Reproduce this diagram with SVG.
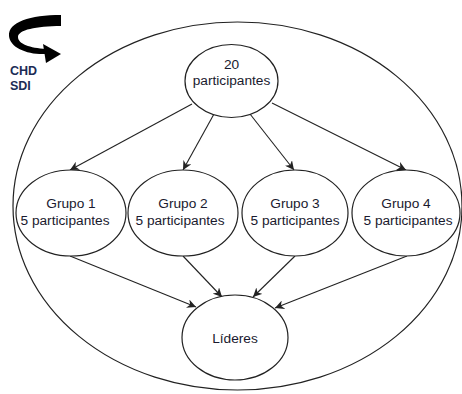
<svg xmlns="http://www.w3.org/2000/svg" width="462" height="394" viewBox="0 0 462 394">
<style>
.n{fill:#fff;stroke:#222;stroke-width:1.2}
.t{font-family:"Liberation Sans",Arial,sans-serif;font-size:13.7px;fill:#1a1a2e;text-anchor:middle}
.b{font-family:"Liberation Sans",Arial,sans-serif;font-size:12.5px;font-weight:bold;fill:#1c2c55}
.c{stroke:#222;stroke-width:1.1;fill:none;marker-end:url(#ah)}
</style>
<defs>
<marker id="ah" viewBox="0 0 10 10" refX="10" refY="5" markerWidth="9" markerHeight="9" markerUnits="userSpaceOnUse" orient="auto">
<path d="M0,0 L10,5 L0,10 L3,5 Z" fill="#222"/>
</marker>
</defs>
<rect width="462" height="394" fill="#fff"/>
<g id="outer"><ellipse cx="237.5" cy="206" rx="224.5" ry="184" fill="none" stroke="#222" stroke-width="1.2"/></g>
<g id="curved-arrow">
<path d="M61,15 C30,15 8,22 9,36 C10,48 28,55 46,54 L46,49 C30,48 18,44 18,37 C18,30 36,26 61,26 Z" fill="#000"/>
<polygon points="43,44 61,54 46,63" fill="#000"/>
<text class="b" x="10" y="75">CHD</text>
<text class="b" x="10" y="90">SDI</text>
</g>
<g id="connectors">
<line class="c" x1="192" y1="104" x2="70" y2="170"/>
<line class="c" x1="214" y1="114" x2="183" y2="170"/>
<line class="c" x1="250" y1="114" x2="294" y2="170"/>
<line class="c" x1="272" y1="103" x2="406" y2="170"/>
<line class="c" x1="70" y1="256" x2="196" y2="307"/>
<line class="c" x1="183" y1="256" x2="222" y2="297"/>
<line class="c" x1="295" y1="256" x2="253" y2="297"/>
<line class="c" x1="407" y1="256" x2="275" y2="308"/>
</g>
<g id="top"><ellipse class="n" cx="231.5" cy="81" rx="46.5" ry="36.5"/><text class="t" x="231.5" y="69">20</text><text class="t" x="231.5" y="85">participantes</text></g>
<g id="g1"><ellipse class="n" cx="71" cy="213" rx="55" ry="43"/><text class="t" x="71" y="208">Grupo 1</text><text class="t" x="65" y="225">5 participantes</text></g>
<g id="g2"><ellipse class="n" cx="183" cy="213" rx="55" ry="43"/><text class="t" x="183" y="208">Grupo 2</text><text class="t" x="180" y="225">5 participantes</text></g>
<g id="g3"><ellipse class="n" cx="295" cy="213" rx="53" ry="43"/><text class="t" x="295" y="208">Grupo 3</text><text class="t" x="295" y="225">5 participantes</text></g>
<g id="g4"><ellipse class="n" cx="406" cy="213" rx="54" ry="43"/><text class="t" x="406" y="208">Grupo 4</text><text class="t" x="408" y="225">5 participantes</text></g>
<g id="lideres"><ellipse class="n" cx="235" cy="337.5" rx="53" ry="42.5"/><text class="t" x="235" y="343">Líderes</text></g>
</svg>
